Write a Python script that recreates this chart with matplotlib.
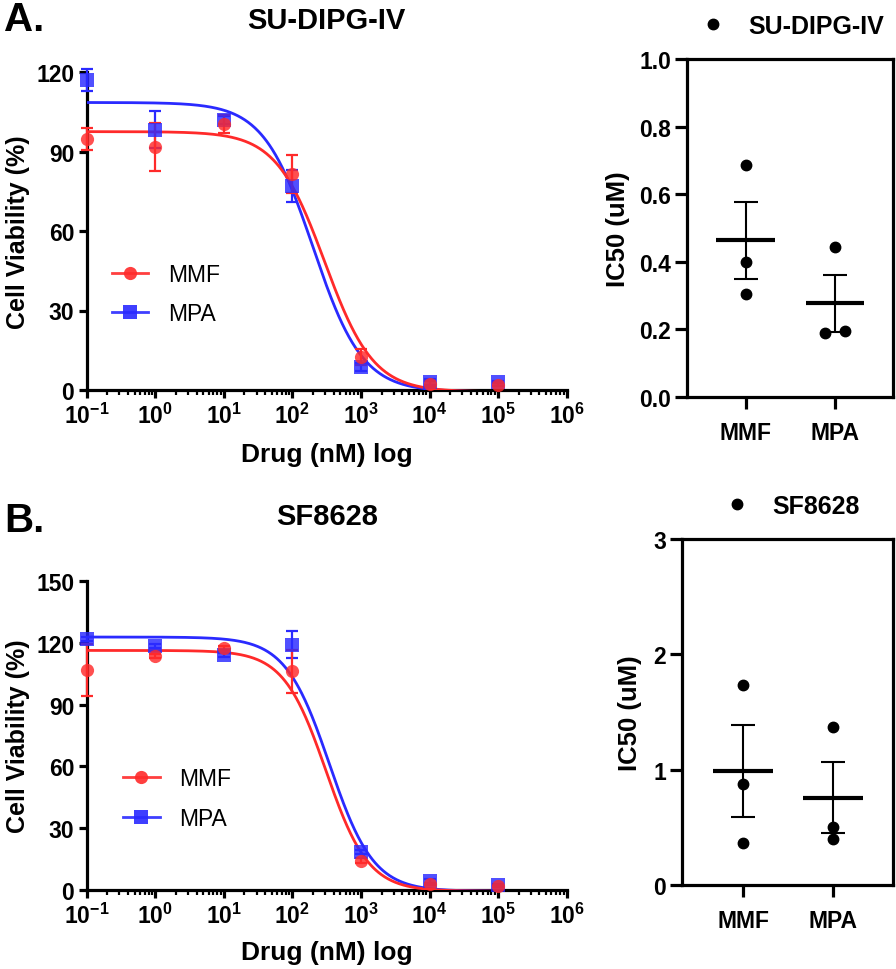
import numpy as np
import matplotlib
matplotlib.use("Agg")
import matplotlib.pyplot as plt
from matplotlib.lines import Line2D
from matplotlib.ticker import (NullFormatter, FuncFormatter, FixedLocator,
                               FormatStrFormatter)

plt.rcParams["font.family"] = ["Liberation Sans", "DejaVu Sans"]
plt.rcParams["font.weight"] = "bold"
plt.rcParams["mathtext.fontset"] = "custom"
plt.rcParams["mathtext.rm"] = "Liberation Sans:bold"
plt.rcParams["mathtext.bf"] = "Liberation Sans:bold"
plt.rcParams["mathtext.it"] = "Liberation Sans:bold"

# ---- dose-response data (mean, SEM) ----
conc_nM = [0.1, 1, 10, 100, 1000, 10000, 100000]

dipg_mmf = [94.7, 91.7, 100.4, 81.5, 12.4, 2.3, 2.0]
dipg_mmf_err = [4.0, 9.0, 3.5, 7.0, 3.0, 1.0, 0.5]
dipg_mpa = [117.0, 98.2, 102.0, 77.0, 8.7, 3.0, 3.0]
dipg_mpa_err = [4.2, 7.0, 1.5, 6.0, 1.5, 1.0, 0.5]

sf_mmf = [106.6, 113.6, 117.5, 106.1, 14.3, 3.0, 2.0]
sf_mmf_err = [12.6, 1.0, 1.0, 10.6, 1.0, 0.5, 0.5]
sf_mpa = [121.7, 118.3, 114.2, 119.1, 18.6, 4.5, 2.5]
sf_mpa_err = [1.0, 1.0, 1.0, 6.5, 1.0, 1.0, 0.5]

# fitted 4PL curves: top, bottom, logIC50, hill slope
dipg_mmf_fit = [97.5, -0.7, 2.47, 1.22]
dipg_mpa_fit = [108.5, -0.7, 2.30, 1.20]
sf_mmf_fit = [116.3, -0.6, 2.49, 1.40]
sf_mpa_fit = [122.8, -0.6, 2.54, 1.35]

# x-axis decades shown
decade_exps = [-1, 0, 1, 2, 3, 4, 5, 6]

# ---- IC50 replicates (uM) ----
groups = ["MMF", "MPA"]
dipg_ic50_mmf = [0.685, 0.40, 0.305]
dipg_ic50_mpa = [0.445, 0.19, 0.195]
sf_ic50_mmf = [1.73, 0.88, 0.36]
sf_ic50_mpa = [1.37, 0.50, 0.40]

RED = "#ff2a2a"
BLUE = "#2a2aff"
SPINE_W = 2.3
TICK_FS = 16.5
W, H = 896, 970


def px_box(x0, y_top, x1, y_bot):
    return [x0 / W, 1 - y_bot / H, (x1 - x0) / W, (y_bot - y_top) / H]


def four_pl(logx, top, bottom, logic50, hill):
    return bottom + (top - bottom) / (1 + 10 ** ((logx - logic50) * hill))


def dec_label(v, _pos):
    return r"$\mathbf{10^{%d}}$" % int(round(np.log10(v)))


def dose_panel(ax, mmf, mmf_err, mpa, mpa_err, mmf_fit, mpa_fit, ymax,
               legend_xy):
    logx = np.linspace(decade_exps[0], 5, 600)
    series = [(mpa, mpa_err, mpa_fit, BLUE, "s", "MPA"),
              (mmf, mmf_err, mmf_fit, RED, "o", "MMF")]
    handles = {}
    for vals, err, fit, col, mk, name in series:
        ax.plot(10 ** logx, four_pl(logx, *fit), color=col, lw=2.0, zorder=3)
        ax.errorbar(conc_nM, vals, yerr=err, fmt="none", ecolor=col,
                    elinewidth=1.6, capsize=4.6, capthick=1.6, zorder=4,
                    clip_on=False)
        ax.plot(conc_nM, vals, ls="none", marker=mk, ms=9.5, color=col,
                alpha=0.82, mew=0, zorder=5, clip_on=False)
        handles[name] = Line2D([], [], color=col, lw=2.0, marker=mk, ms=9.5,
                               alpha=0.9, mew=0)

    majors = [10.0 ** e for e in decade_exps]
    minors = [m * 10.0 ** e for e in decade_exps[:-1] for m in range(2, 10)]
    ax.set_xscale("log")
    ax.set_xlim(majors[0], majors[-1])
    ax.set_ylim(0, ymax)
    ax.set_yticks(np.arange(0, ymax + 1, 30))
    ax.xaxis.set_major_locator(FixedLocator(majors))
    ax.xaxis.set_minor_locator(FixedLocator(minors))
    ax.xaxis.set_major_formatter(FuncFormatter(dec_label))
    ax.xaxis.set_minor_formatter(NullFormatter())
    for side in ("top", "right"):
        ax.spines[side].set_visible(False)
    for side in ("left", "bottom"):
        ax.spines[side].set_linewidth(SPINE_W)
    ax.tick_params(axis="both", which="major", direction="out", length=6,
                   width=SPINE_W, labelsize=TICK_FS, pad=3)
    ax.tick_params(axis="x", which="minor", direction="out", length=3.5,
                   width=1.6)
    ax.set_xlabel("Drug (nM) log", fontsize=19, fontweight="bold")
    ax.xaxis.set_label_coords(0.5, -0.20)
    ax.xaxis.label.set_va("center")
    ax.set_ylabel("Cell Viability (%)", fontsize=18, fontweight="bold")
    ax.yaxis.set_label_coords(-0.143, 0.5)
    ax.yaxis.label.set_va("center")

    ax.legend([handles["MMF"], handles["MPA"]], ["MMF", "MPA"],
              loc="center left", bbox_to_anchor=legend_xy, frameon=False,
              prop={"size": 16.5, "weight": "normal"}, handlelength=1.6,
              handletextpad=0.85, labelspacing=0.72, borderpad=0,
              borderaxespad=0)


def ic50_panel(ax, mmf_pts, mpa_pts, mpa_offsets, ymax, yticks, fmt,
               xlim, label_x):
    sets = [mmf_pts, mpa_pts]
    offsets = [[0, 0, 0], mpa_offsets]
    for i, (pts, off) in enumerate(zip(sets, offsets)):
        pts = np.asarray(pts)
        mean = pts.mean()
        sem = pts.std(ddof=1) / np.sqrt(len(pts))
        ax.plot(i + np.asarray(off), pts, ls="none", marker="o", ms=7.5,
                color="black", zorder=4)
        ax.hlines(mean, i - 0.33, i + 0.33, color="black", lw=3.0, zorder=3)
        ax.errorbar(i, mean, yerr=sem, fmt="none", ecolor="black",
                    elinewidth=1.5, capsize=8.5, capthick=1.5, zorder=3)
    ax.set_xlim(*xlim)
    ax.set_ylim(0, ymax)
    ax.set_xticks(range(len(groups)))
    ax.set_xticklabels(groups)
    ax.yaxis.set_major_locator(FixedLocator(yticks))
    ax.yaxis.set_major_formatter(FormatStrFormatter(fmt))
    for sp in ax.spines.values():
        sp.set_linewidth(SPINE_W)
    ax.tick_params(axis="both", direction="out", length=8.5, width=SPINE_W,
                   labelsize=TICK_FS, pad=3)
    ax.tick_params(axis="x", pad=9)
    ax.set_ylabel("IC50 (uM)", fontsize=18.5, fontweight="bold")
    ax.yaxis.set_label_coords(label_x, 0.5)
    ax.yaxis.label.set_va("center")


fig = plt.figure(figsize=(W / 100, H / 100), dpi=100)
fig.patch.set_facecolor("white")

ax_a = fig.add_axes(px_box(86.7, 73, 566.7, 391))
dose_panel(ax_a, dipg_mmf, dipg_mmf_err, dipg_mpa, dipg_mpa_err,
           dipg_mmf_fit, dipg_mpa_fit, 120, (0.052, 0.302))

ax_b = fig.add_axes(px_box(86.7, 582, 566.7, 891))
dose_panel(ax_b, sf_mmf, sf_mmf_err, sf_mpa, sf_mpa_err,
           sf_mmf_fit, sf_mpa_fit, 150, (0.0756, 0.296))

ax_c = fig.add_axes(px_box(687, 60, 893, 398))
ic50_panel(ax_c, dipg_ic50_mmf, dipg_ic50_mpa, [0, -0.107, 0.107], 1.0,
           np.arange(0, 1.01, 0.2), "%.1f", (-0.66, 1.65), -0.335)

ax_d = fig.add_axes(px_box(682, 540, 893, 886))
ic50_panel(ax_d, sf_ic50_mmf, sf_ic50_mpa, [0, 0, 0], 3, [0, 1, 2, 3],
           "%d", (-0.678, 1.667), -0.246)

# panel letters and titles
fig.text(4 / W, 1 - 20 / H, "A.", fontsize=29, fontweight="bold", va="center")
fig.text(4 / W, 1 - 521 / H, "B.", fontsize=29, fontweight="bold", va="center")
fig.text(326.7 / W, 1 - 21 / H, "SU-DIPG-IV", fontsize=21, fontweight="bold",
         ha="center", va="center")
fig.text(326.7 / W, 1 - 517 / H, "SF8628", fontsize=21, fontweight="bold",
         ha="center", va="center")

# dot + cell-line keys over the IC50 panels
for name, x0, yc in (("SU-DIPG-IV", 700.5, 27), ("SF8628", 724.5, 507)):
    dot = Line2D([], [], ls="none", marker="o", ms=7.5, color="black")
    fig.legend([dot], [name], loc="center left",
               bbox_to_anchor=(x0 / W, 1 - yc / H), frameon=False,
               prop={"size": 18, "weight": "bold"}, handlelength=1.0,
               handletextpad=0.9, borderpad=0, borderaxespad=0)

fig.savefig("out.png", dpi=100, facecolor="white")
